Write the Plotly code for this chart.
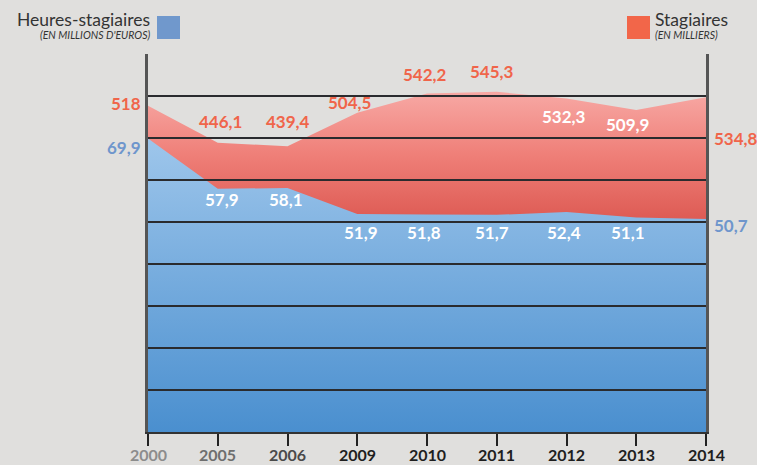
import plotly.graph_objects as go

# ---- data ----
years = ["2000", "2005", "2006", "2009", "2010", "2011", "2012", "2013", "2014"]
heures = [69.9, 57.9, 58.1, 51.9, 51.8, 51.7, 52.4, 51.1, 50.7]          # millions d'euros
stagiaires = [518, 446.1, 439.4, 504.5, 542.2, 545.3, 532.3, 509.9, 534.8]  # milliers
year_colors = ["#8c8c8c", "#6e6e6e", "#4a4a4a", "#1e1e1e", "#1e1e1e",
               "#1e1e1e", "#1e1e1e", "#1e1e1e", "#1e1e1e"]

def fr(v):
    return ("%g" % v).replace(".", ",")

xs = list(range(len(years)))
BG = "#e0dfdd"
RED_TXT = "#f0654a"
BLUE_TXT = "#6f96cc"
FONT = "Lato"

fig = go.Figure()

# red area (base axis y)
fig.add_trace(go.Scatter(
    x=xs, y=stagiaires, yaxis="y", mode="lines", line=dict(width=0),
    fill="tozeroy",
    fillgradient=dict(type="vertical", start=300, stop=545,
                      colorscale=[[0, "#de5c55"], [0.5, "#ef7f78"], [1, "#f7a8a4"]]),
    hoverinfo="skip", showlegend=False))

# blue area (overlaying axis y2, drawn above)
fig.add_trace(go.Scatter(
    x=xs, y=heures, yaxis="y2", mode="lines", line=dict(width=0),
    fill="tozeroy",
    fillgradient=dict(type="vertical", start=0, stop=70,
                      colorscale=[[0, "#4a8fcf"], [1, "#9ec6eb"]]),
    hoverinfo="skip", showlegend=False))

# gridlines drawn above the areas
shapes = []
for g in range(10, 90, 10):
    shapes.append(dict(type="line", xref="x", yref="y2", x0=0, x1=8, y0=g, y1=g,
                       line=dict(color="#2a2b2e", width=2), layer="above"))

annotations = []
# blue labels
b_xshift = [-5, 4, -1.5, 4, -3, -5, -3, -8, 6]
b_yshift = [-9, -10.5, -11.4, -18.4, -18, -17.6, -20.5, -15, -6]
for i, v in enumerate(heures):
    if i == 0:
        anchor, col = "right", BLUE_TXT
    elif i == len(heures) - 1:
        anchor, col = "left", BLUE_TXT
    else:
        anchor, col = "center", "white"
    annotations.append(dict(x=i, y=v, xref="x", yref="y2", text=fr(v), showarrow=False,
                            xanchor=anchor, yanchor="middle",
                            xshift=b_xshift[i], yshift=b_yshift[i],
                            font=dict(family=FONT, size=17, color=col, weight="bold")))
# red labels
r_xshift = [-5, 3, 0, -8, -2, -5, -3, -9, 6]
r_yshift = [2, 21.5, 25, 10, 19, 20, -17.6, -14, -41]
r_cols = [RED_TXT, RED_TXT, RED_TXT, RED_TXT, RED_TXT, RED_TXT, "white", "white", RED_TXT]
for i, v in enumerate(stagiaires):
    anchor = "right" if i == 0 else ("left" if i == len(stagiaires) - 1 else "center")
    annotations.append(dict(x=i, y=v, xref="x", yref="y", text=fr(v), showarrow=False,
                            xanchor=anchor, yanchor="middle",
                            xshift=r_xshift[i], yshift=r_yshift[i],
                            font=dict(family=FONT, size=17, color=r_cols[i], weight="bold")))

# paper coords are relative to the plot area; convert from page pixels
L, R, T, B = 148, 51, 54, 33
W, H = 757 - L - R, 465 - T - B
def page(x, y, text, anchor, size, color, italic=False):
    return dict(x=(x - L) / W, y=(465 - B - y) / H, xref="paper", yref="paper", text=text,
                showarrow=False, xanchor=anchor, yanchor="middle",
                font=dict(family=FONT, size=size, color=color,
                          style="italic" if italic else "normal"))

annotations += [
    page(152, 20, "Heures-stagiaires", "right", 17.5, "#333333"),
    page(152, 35, "(EN MILLIONS D'EUROS)", "right", 10.5, "#333333", True),
    page(653, 20, "Stagiaires", "left", 17.5, "#333333"),
    page(653, 35, "(EN MILLIERS)", "left", 10.5, "#333333", True),
]
# year labels under the ticks
for i, (y, c) in enumerate(zip(years, year_colors)):
    annotations.append(dict(x=i, y=(465 - B - 454.5) / H, xref="x", yref="paper", text=y,
                            showarrow=False, xanchor="center", yanchor="middle",
                            font=dict(family=FONT, size=16, color=c, weight="bold")))

shapes += [
    dict(type="rect", xref="paper", yref="paper",
         x0=(157 - L) / W, x1=(180 - L) / W, y0=(465 - B - 39) / H, y1=(465 - B - 16) / H,
         fillcolor="#7098cc", line=dict(width=0), layer="above"),
    dict(type="rect", xref="paper", yref="paper",
         x0=(627 - L) / W, x1=(650 - L) / W, y0=(465 - B - 39) / H, y1=(465 - B - 16) / H,
         fillcolor="#f26649", line=dict(width=0), layer="above"),
]

fig.update_layout(
    width=757, height=465,
    margin=dict(l=L, r=R, t=T, b=B, autoexpand=False),
    paper_bgcolor=BG, plot_bgcolor=BG,
    showlegend=False,
    xaxis=dict(range=[0, 8], tickvals=xs, showticklabels=False, showgrid=False, zeroline=False,
               showline=True, linecolor="#333333", linewidth=2, automargin=False,
               ticks="outside", ticklen=12, tickwidth=2, tickcolor="#222222",
               fixedrange=True),
    yaxis=dict(range=[-117, 619], showgrid=False, zeroline=False, showticklabels=False,
               showline=True, linecolor="#555555", linewidth=2.5, mirror=True, ticks="",
               automargin=False),
    yaxis2=dict(range=[0, 90], overlaying="y", showgrid=False, zeroline=False,
                showticklabels=False, showline=False, ticks="", automargin=False),
    shapes=shapes,
    annotations=annotations,
)

fig.write_html("out.html")
